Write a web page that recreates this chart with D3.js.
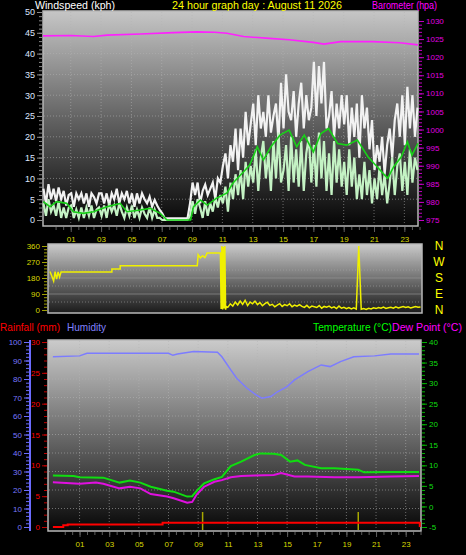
<!DOCTYPE html>
<html><head><meta charset="utf-8">
<script src="https://cdn.jsdelivr.net/npm/d3@7"></script>
<style>
html,body{margin:0;padding:0;background:#000;}
svg{display:block;font-family:"Liberation Sans",Arial,sans-serif;}
</style></head><body>
<svg id="c" width="466" height="555"></svg>
<script>
// ---------------- DATA ----------------
const hourLabels = ["01","03","05","07","09","11","13","15","17","19","21","23"];
const hourTickValues = [1,3,5,7,9,11,13,15,17,19,21,23];

// wind speed / gust: 10-minute samples starting at -0.8 h
const windStartHour = -0.8, windStepHour = 1/6;
const gustValues = [7.5,4,8.6,5,7.5,
 4.5,7.8,5,7,3.5,6, 6.4,3.2,6.4,5,6.4,4, 6.4,3.2,6.4,5.5,4,6.4, 6.4,4,6.4,3.5,6.4,5,
 7.5,4,6.4,5,7,4, 6.4,3.2,6.4,4,6.4,5, 4,5.6,3.2,4.8,3.5,2.4, 1.6,0.4,0.4,0.4,0.4,0.4,
 0.4,0.4,0.4,0.4,0.4,4, 9,6,9,4,7,8.5, 6,7.5,9,5,10,9, 13,16,10,18,14,22,
 12,22,15,26,18,23, 28,18,30,22,26,20, 30,21,25,28,19,33, 22,35,26,24,31,20,
 28,33,22,30,24,27, 38,25,37,28,38,22, 25,31,20,28,22,30, 23,30,18,27,20,28,
 15,30,22,27,17,24, 12,18,14,20,11,18, 22,15,24,28,20,30, 18,32,22,30,20,27];
const speedValues = [4,1,5,2,3.5,
 1,4.5,0.5,3,0.5,3, 3.5,0.5,2.5,0.5,3,0.5, 3,1,3.5,0.5,2.5,3, 1,3.5,0.5,4,2,3.5,
 1,4,2,0.5,3,1, 3.5,0.5,2.5,0.5,3,1.5, 0.5,3,0.5,2.5,0.5,0.5, 0,0,0,0,0,0,
 0,0,0,0,0,1, 4.5,1.5,5,3,0.5,4.5, 1,4,2,5.5,3,6, 4,8,2,9,5,11,
 6,12,5,14,8,13, 9,17,7,15,19,10, 16,7,19,10,21,9, 12,18,7,20,9,17,
 8,19,7,16,20,9, 18,8,21,10,19,7, 16,6,19,9,17,8, 14,6,17,8,15,5,
 11,5,14,6,12,4, 10,5,13,6,11,4, 9,15,6,13,16,7, 14,6,17,9,15,12];
const avgHours = [-0.81,-0.37,0.07,0.73,1.17,1.83,2.5,3.38,4.26,4.7,5.58,6.24,6.9,7.35,7.8,8.9,9.1,9.55,10,10.6,11.3,11.7,12.4,12.8,13.3,13.7,14.2,14.8,15.4,15.9,16.4,17.0,17.5,18.0,18.6,19.2,19.9,20.6,21.2,21.9,22.3,22.8,23.2,23.5,23.9];
const avgValues = [4.4,3.2,4.4,4,2,1.6,2,3.2,4,2,2.4,2.8,1.6,0,0,0,3.2,4.8,3.6,5.2,6.5,8.9,11.6,13.2,17.6,14.4,17.6,20.4,21.6,17.6,20.4,16.4,20.8,22,18.4,18,19.2,15.2,12.8,10,12.8,15.2,18.8,15.6,18.4];
const baroHours = [-0.83,1.0,2.5,3.4,5.6,7.8,9.3,10.5,11.3,12.4,14.1,15.4,17.0,17.7,18.8,20.9,22.7,23.9];
const baroValues = [1025.9,1026.0,1025.7,1026.1,1026.4,1026.8,1027.0,1026.9,1026.6,1025.7,1025.2,1024.8,1024.1,1023.6,1024.3,1024.3,1024.0,1023.4];

// wind direction
const dirEarlyHours = [-1.0,-0.9,-0.75,-0.65,-0.55,-0.45,-0.35,-0.25,3.18,3.18,3.74,3.74,8.94,9.0,9.15,9.3,9.45,9.6,10.5,10.55,10.6,10.65,10.7,10.75,10.8,10.85,10.9];
const dirEarlyValues = [217,197,163,216,174,214,185,214,214,230,230,249,249,311,293,305,295,320,320,5,360,3,355,8,360,2,20];
const dirLateStart = 11.0, dirLateStep = 1/6;
const dirLateValues = [15,35,22,45,28,50, 32,55,25,45,35,50, 30,42,24,36,44,26, 32,18,28,36,20,30,
 24,35,18,28,22,30, 20,15,26,12,22,18, 14,25,10,20,16,22, 12,18,8,22,10,15,
 8,14,6,12,5,360, 4,8,3,10,6,12, 8,14,10,16,9,13, 15,10,18,12,16,20, 14,18,12,16,19,15, 17];

// humidity / temperature / dew point / rain
const humHours = [-0.8,1.0,1.5,5.1,7.0,7.3,7.6,8.7,10.3,10.6,11.2,11.6,12.3,12.9,13.3,13.9,14.35,15.0,15.5,16.4,17.3,17.9,18.6,19.5,20.9,22.0,23.9];
const humValues = [92,92.5,93.9,93.9,93.9,92.8,93.5,94.8,94.5,92,84.9,80.4,75,71.4,69.6,70.5,73.1,75.9,79.5,84,87.6,86.7,89.4,92,92.5,93.5,93.5];
const tempHours = [-0.8,0.6,1.0,2.6,3.7,4.4,5.1,5.8,6.9,7.35,8.26,8.6,8.9,9.4,10.1,10.6,11.2,11.9,12.8,13.2,14.1,14.6,15.2,15.7,16.2,17.3,18.2,19.8,20.2,22.0,23.9];
const tempValues = [7.5,7.4,7.1,7.0,5.8,6.3,5.8,4.8,3.8,3.6,2.4,2.5,3.8,5.6,6.6,7.2,9.8,10.9,12.5,12.9,12.8,12.5,10.9,11.2,10.1,9.3,9.3,8.9,8.3,8.4,8.4];
const dewHours = [-0.8,1.0,2.1,2.6,3.7,4.4,5.1,5.8,6.9,7.35,8.26,8.6,8.9,9.4,10.1,10.6,11.2,11.9,12.8,14.1,14.6,15.5,16.4,18.2,19.8,22.0,23.9];
const dewValues = [5.9,5.5,5.8,5.5,4.4,4.8,4.4,3.0,2.4,2.0,0.9,1.1,2.9,4.8,6.0,6.4,7.1,7.4,7.5,7.65,8.1,7.3,7.3,7.1,7.1,7.3,7.4];
const rainHours = [-0.8,-0.1,0.2,6.6,23.75,23.95];
const rainValues = [0,0.3,0.4,0.7,0.7,0];
const markerHours = [9.3,19.8];

const speedTicks = [0,5,10,15,20,25,30,35,40,45,50];
const baroTicks = [975,980,985,990,995,1000,1005,1010,1015,1020,1025,1030];
const dirTicks = [0,90,180,270,360];
const compassLabels = ["N","W","S","E","N"];
const humTicks = [0,10,20,30,40,50,60,70,80,90,100];
const rainTicks = [0,5,10,15,20,25,30];
const tempTicks = [-5,0,5,10,15,20,25,30,35,40];

// ---------------- DRAW ----------------
const svg = d3.select("#c");
const defs = svg.append("defs");
function grad(id, stops) {
  const g = defs.append("linearGradient").attr("id", id).attr("x1",0).attr("y1",0).attr("x2",0).attr("y2",1);
  stops.forEach(s => g.append("stop").attr("offset", s[0]).attr("stop-color", s[1]));
}
grad("gTop", [[0,"#c6c6c6"],[0.5,"#636363"],[1,"#050505"]]);
grad("gDir", [[0,"#cacaca"],[1,"#1a1a1a"]]);
grad("gBot", [[0,"#cbcbcb"],[0.5,"#6a6a6a"],[1,"#060606"]]);

const xTop = d3.scaleLinear().domain([-0.83, 23.9]).range([43, 418]);
const xLow = d3.scaleLinear().domain([-1.13, 24.1]).range([48, 422]);
const ySpeed = d3.scaleLinear().domain([0, 50]).range([220, 12]);
const yBaro = d3.scaleLinear().domain([975, 1030]).range([220, 21]);
const yDir = d3.scaleLinear().domain([0, 360]).range([310, 246]);
const yHum = d3.scaleLinear().domain([0, 100]).range([527, 342]);
const yRain = d3.scaleLinear().domain([0, 30]).range([527, 342]);
const yTemp = d3.scaleLinear().domain([-5, 40]).range([527, 342]);

function panel(x0, y0, x1, y1, g) {
  svg.append("rect").attr("x", x0).attr("y", y0).attr("width", x1 - x0).attr("height", y1 - y0)
    .attr("fill", `url(#${g})`).attr("stroke", "#b8b8b8").attr("stroke-width", 1.5);
}
function hgrid(vals, y, x0, x1, color) {
  svg.append("g").selectAll("line").data(vals).join("line")
    .attr("x1", x0).attr("x2", x1).attr("y1", d => y(d)).attr("y2", d => y(d))
    .attr("stroke", color || "#b4b4b4").attr("stroke-opacity", 0.55).attr("stroke-dasharray", "1,2");
}
function vgrid(vals, x, y0, y1) {
  svg.append("g").selectAll("line").data(vals).join("line")
    .attr("x1", d => x(d)).attr("x2", d => x(d)).attr("y1", y0).attr("y2", y1)
    .attr("stroke", "#b4b4b4").attr("stroke-opacity", 0.55).attr("stroke-dasharray", "1,2");
}
function styleAxis(g, color, fs) {
  g.select(".domain").remove();
  g.selectAll("line").attr("stroke", color);
  g.selectAll("text").attr("fill", color).style("font-size", fs + "px").style("font-family", '"Liberation Sans",Arial,sans-serif');
}
function yAxis(scale, side, x, major, minorStep, tickColor, textColor, fs, fmt) {
  const dom = scale.domain();
  const minor = d3.range(dom[0], dom[1] + 0.001, minorStep);
  const mk = side === "left" ? d3.axisLeft : d3.axisRight;
  const gm = svg.append("g").attr("transform", `translate(${x},0)`)
    .call(mk(scale).tickValues(minor).tickSize(3).tickFormat(""));
  styleAxis(gm, tickColor, fs);
  const g = svg.append("g").attr("transform", `translate(${x},0)`)
    .call(mk(scale).tickValues(major).tickSize(5).tickPadding(2).tickFormat(fmt || (d => d)));
  styleAxis(g, tickColor, fs);
  g.selectAll("text").attr("fill", textColor);
  return g;
}
function xAxis(scale, y, fs) {
  const minor = d3.range(0, 24.01, 0.5);
  const gm = svg.append("g").attr("transform", `translate(0,${y})`)
    .call(d3.axisBottom(scale).tickValues(minor).tickSize(3).tickFormat(""));
  styleAxis(gm, "#5c5c5c", fs);
  const g = svg.append("g").attr("transform", `translate(0,${y})`)
    .call(d3.axisBottom(scale).tickValues(hourTickValues).tickSize(5).tickPadding(4)
      .tickFormat((d, i) => hourLabels[i]));
  styleAxis(g, "#5c5c5c", fs);
  g.selectAll("text").attr("fill", "#d8d800");
}
function label(x, y, color, txt, len) {
  svg.append("text").attr("x", x).attr("y", y).attr("fill", color).style("font-size", "11px")
    .attr("textLength", len).attr("lengthAdjust", "spacingAndGlyphs").text(txt);
}

// ---- top panel: wind + barometer
panel(43, 11, 418, 226, "gTop");
hgrid(d3.range(5, 50, 5), ySpeed, 44, 417);
vgrid(hourTickValues, xTop, 12, 225);

const windHours = gustValues.map((_, i) => windStartHour + i * windStepHour);
const lineW = d3.line().x((d, i) => xTop(windHours[i])).y(d => ySpeed(d));
svg.append("path").attr("d", lineW(gustValues)).attr("fill", "none")
  .attr("stroke", "#f2f2f2").attr("stroke-width", 2.2).attr("stroke-linejoin", "miter");
svg.append("path").attr("d", lineW(speedValues)).attr("fill", "none")
  .attr("stroke", "#c4f2c4").attr("stroke-width", 2.2);
svg.append("path").attr("d", d3.line().x((d, i) => xTop(avgHours[i])).y(d => ySpeed(d))(avgValues))
  .attr("fill", "none").attr("stroke", "#18d018").attr("stroke-width", 1.6);
svg.append("path").attr("d", d3.line().x((d, i) => xTop(baroHours[i])).y(d => yBaro(d))(baroValues))
  .attr("fill", "none").attr("stroke", "#ff20ff").attr("stroke-width", 1.6);

yAxis(ySpeed, "left", 42, speedTicks, 1, "#8a8a8a", "#dce6ff", 9);
yAxis(yBaro, "right", 419, baroTicks, 1, "#c000c0", "#e000e0", 8);
xAxis(xTop, 227, 8);

label(35, 9, "#ffffff", "Windspeed (kph)", 80);
label(172, 9, "#ffff00", "24 hour graph day : August 11 2026", 170);
label(372, 9, "#ff00ff", "Barometer (hpa)", 65);

// ---- wind direction panel
panel(48, 244, 422, 313, "gDir");
hgrid([45, 135, 225, 315], yDir, 49, 421, "#a8a8a8");
svg.append("g").selectAll("line").data([90, 180, 270]).join("line")
  .attr("x1", 49).attr("x2", 421).attr("y1", d => yDir(d)).attr("y2", d => yDir(d))
  .attr("stroke", "#9a9a9a").attr("stroke-opacity", 0.6);
const dirLateHours = dirLateValues.map((_, i) => dirLateStart + i * dirLateStep);
const dirH = dirEarlyHours.concat(dirLateHours);
const dirV = dirEarlyValues.concat(dirLateValues);
svg.append("path").attr("d", d3.line().x((d, i) => xLow(dirH[i])).y(d => yDir(d))(dirV))
  .attr("fill", "none").attr("stroke", "#f0f000").attr("stroke-width", 1.5);
yAxis(yDir, "left", 47, dirTicks, 18, "#a0a000", "#d8d800", 8);
svg.append("g").selectAll("text").data(compassLabels).join("text")
  .attr("x", 439).attr("y", (d, i) => yDir(360 - i * 90) + 4).attr("text-anchor", "middle")
  .attr("fill", "#ffff00").style("font-size", "12px").text(d => d);

// ---- bottom panel
panel(48, 340, 421, 531, "gBot");
hgrid(d3.range(10, 100, 10), yHum, 49, 420);
vgrid(hourTickValues, xLow, 341, 530);
svg.append("g").selectAll("line").data(markerHours).join("line")
  .attr("x1", d => xLow(d)).attr("x2", d => xLow(d)).attr("y1", 512).attr("y2", 530)
  .attr("stroke", "#a8a800").attr("stroke-width", 1.5);
svg.append("path").attr("d", d3.line().x((d, i) => xLow(humHours[i])).y(d => yHum(d))(humValues))
  .attr("fill", "none").attr("stroke", "#7c7cff").attr("stroke-width", 1.5);
svg.append("path").attr("d", d3.line().x((d, i) => xLow(tempHours[i])).y(d => yTemp(d))(tempValues))
  .attr("fill", "none").attr("stroke", "#10dd10").attr("stroke-width", 2);
svg.append("path").attr("d", d3.line().x((d, i) => xLow(dewHours[i])).y(d => yTemp(d))(dewValues))
  .attr("fill", "none").attr("stroke", "#e010e0").attr("stroke-width", 2);
svg.append("path").attr("d", d3.line().curve(d3.curveStepAfter).x((d, i) => xLow(rainHours[i])).y(d => yRain(d))(rainValues))
  .attr("fill", "none").attr("stroke", "#ff0000").attr("stroke-width", 2);

// humidity axis (blue) with spine
svg.append("line").attr("x1", 30).attr("x2", 30).attr("y1", 340).attr("y2", 531).attr("stroke", "#6c6cff").attr("stroke-width", 2);
yAxis(yHum, "left", 29, humTicks, 2, "#6c6cff", "#7878ff", 8);
yAxis(yRain, "left", 47, rainTicks, 1, "#c00000", "#ff0000", 8);
yAxis(yTemp, "right", 422, tempTicks, 1, "#00b000", "#10dd10", 8, d => d);
xAxis(xLow, 532, 8);

label(0, 331, "#ff0000", "Rainfall (mm)", 60);
label(67, 331, "#8080ff", "Humidity", 39);
label(313, 331, "#00ff00", "Temperature (°C)", 79);
label(392, 331, "#ff00ff", "Dew Point (°C)", 70);
</script></body></html>
